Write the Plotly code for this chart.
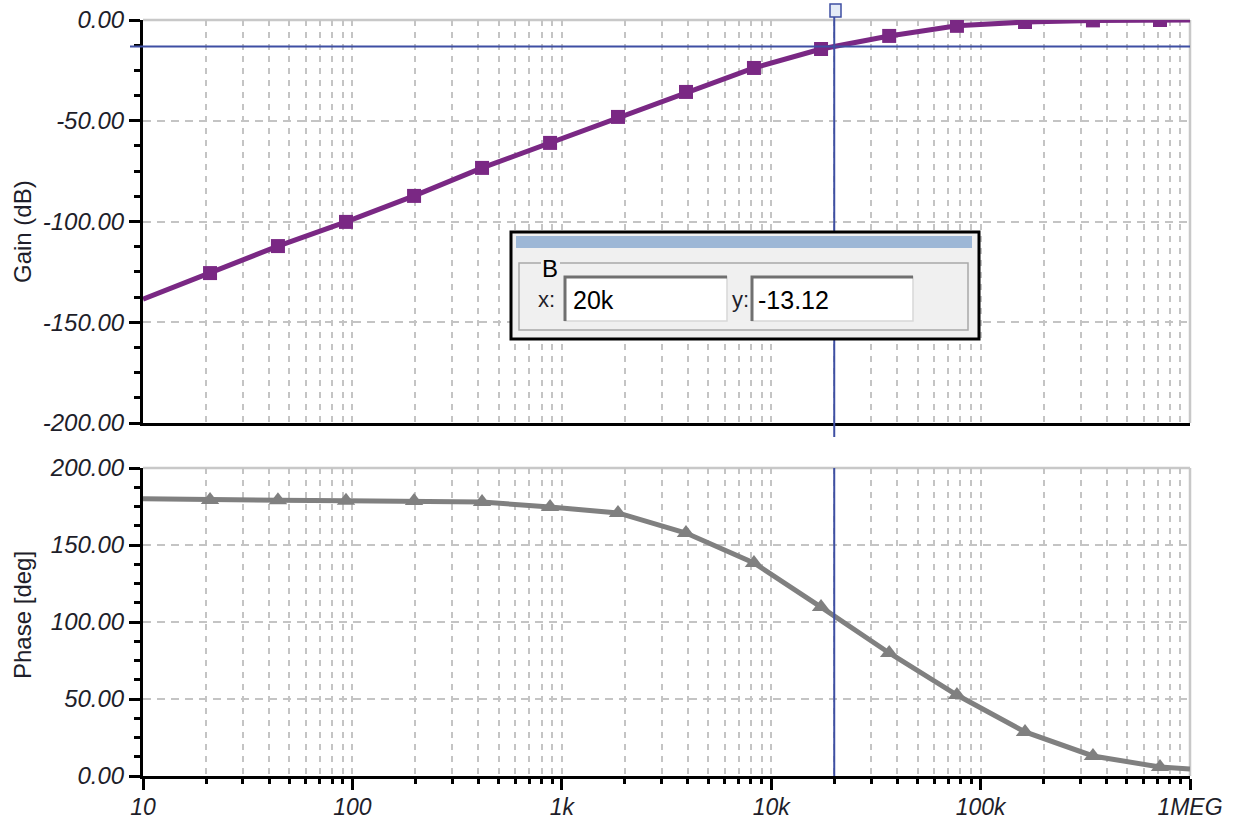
import plotly.graph_objects as go
from plotly.subplots import make_subplots

# ---------------- data ----------------
freq = [10, 20.9, 44.1, 93.2, 197, 416, 879, 1855, 3918, 8273,
        17300, 36600, 77100, 163000, 344000, 719000, 1000000]
gain_db = [-138.5, -125.6, -112.2, -100.2, -87.3, -73.4, -61.0, -48.1, -35.7, -23.8,
           -14.4, -7.9, -2.9, -1.0, -0.2, 0.0, 0.0]
phase_deg = [180.0, 179.2, 179.0, 178.8, 178.5, 177.9, 174.7, 170.8, 157.8, 138.3,
             109.7, 79.9, 52.6, 28.6, 13.0, 5.8, 4.5]
marker_shown = [0] + [1] * 15 + [0]

x_tickvals = [10, 100, 1000, 10000, 100000, 1000000]
x_ticktext = ["10", "100", "1k", "10k", "100k", "1MEG"]
x_minor = [k * 10 ** d for d in range(1, 6) for k in range(2, 10)]

gain_tickvals = [0, -50, -100, -150, -200]
gain_ticktext = ["0.00", "-50.00", "-100.00", "-150.00", "-200.00"]
phase_tickvals = [0, 50, 100, 150, 200]
phase_ticktext = ["0.00", "50.00", "100.00", "150.00", "200.00"]

cursor_x = 20000
cursor_y = -13.12
cursor_label = "B"
cursor_x_text = "20k"
cursor_y_text = "-13.12"

# ---------------- styling ----------------
W, H = 1250, 820
L, R, T, B = 143, 1190, 20, 776   # plot area in pixels
PW, PH = R - L, B - T


def px(x):
    return (x - L) / PW


def py(y):
    return (B - y) / PH


GAIN_COLOR = "#7a2884"
PHASE_COLOR = "#808080"
CURSOR_COLOR = "#3e4fa3"
GRID_COLOR = "#c4c4c4"
FRAME_GRAY = "#c8c8c8"
FONT = "Liberation Sans, Arial, sans-serif"
TEXT_COLOR = "#1e1e2a"

top_domain = [py(423), 1.0]
bot_domain = [0.0, py(468)]

fig = make_subplots(rows=2, cols=1, shared_xaxes=False)

fig.add_trace(go.Scatter(
    x=freq, y=gain_db, mode="lines+markers",
    line=dict(color=GAIN_COLOR, width=5),
    marker=dict(symbol="square", size=[14 * m for m in marker_shown], color=GAIN_COLOR,
                opacity=1, line=dict(width=0)),
    showlegend=False, hoverinfo="skip"), row=1, col=1)

fig.add_trace(go.Scatter(
    x=freq, y=phase_deg, mode="lines+markers",
    line=dict(color=PHASE_COLOR, width=5),
    marker=dict(symbol="triangle-up", size=[16 * m for m in marker_shown], color=PHASE_COLOR,
                opacity=1, line=dict(width=0)),
    showlegend=False, hoverinfo="skip"), row=2, col=1)

ytickfont = dict(family=FONT, size=24, color=TEXT_COLOR, style="italic")
xtickfont = dict(family=FONT, size=23, color=TEXT_COLOR, style="italic")

common_x = dict(
    type="log", range=[1, 6], tickmode="array", tickvals=x_tickvals,
    showline=True, linecolor="black", linewidth=3,
    showgrid=True, gridcolor=GRID_COLOR, gridwidth=1.5, griddash="6px,6px",
    zeroline=False, automargin=False, ticklabeloverflow="allow",
)

fig.update_layout(
    xaxis=dict(common_x, domain=[0, 1], anchor="y", showticklabels=False, ticks="",
               ticktext=x_ticktext,
               minor=dict(tickmode="array", tickvals=x_minor, ticks="",
                          showgrid=True, gridcolor=GRID_COLOR, gridwidth=1.5, griddash="6px,6px")),
    xaxis2=dict(common_x, domain=[0, 1], anchor="y2", ticktext=x_ticktext,
                ticks="outside", ticklen=11, tickwidth=2.5, tickcolor="black",
                tickfont=xtickfont, ticklabelstandoff=-3,
                minor=dict(tickmode="array", tickvals=x_minor, ticks="outside", ticklen=5,
                           tickwidth=2.5, tickcolor="black",
                           showgrid=True, gridcolor=GRID_COLOR, gridwidth=1.5, griddash="6px,6px")),
    yaxis=dict(domain=top_domain, anchor="x", range=[-200, 0], automargin=False,
               ticklabeloverflow="allow",
               tickmode="array", tickvals=gain_tickvals, ticktext=gain_ticktext,
               ticks="outside", ticklen=11, tickwidth=2.5, tickcolor="black",
               tickfont=ytickfont, showline=True, linecolor="black", linewidth=3,
               showgrid=True, gridcolor=GRID_COLOR, gridwidth=1.5, griddash="8px,6px",
               zeroline=False,
               minor=dict(dtick=12.5, tick0=0, ticks="outside", ticklen=6, tickwidth=2.5,
                          tickcolor="black", showgrid=False)),
    yaxis2=dict(domain=bot_domain, anchor="x2", range=[0, 200], automargin=False,
                ticklabeloverflow="allow",
                tickmode="array", tickvals=phase_tickvals, ticktext=phase_ticktext,
                ticks="outside", ticklen=11, tickwidth=2.5, tickcolor="black",
                tickfont=ytickfont, showline=True, linecolor="black", linewidth=3,
                showgrid=True, gridcolor=GRID_COLOR, gridwidth=1.5, griddash="8px,6px",
                zeroline=False,
                minor=dict(dtick=12.5, tick0=0, ticks="outside", ticklen=6, tickwidth=2.5,
                           tickcolor="black", showgrid=False)),
    width=W, height=H,
    margin=dict(l=L, r=W - R, t=T, b=H - B, autoexpand=False),
    paper_bgcolor="white", plot_bgcolor="white",
    showlegend=False, hovermode=False,
    font=dict(family=FONT, color=TEXT_COLOR),
)

shapes = []
# gray top / right frame of both plots
for xr, yr in (("x domain", "y domain"), ("x2 domain", "y2 domain")):
    shapes.append(dict(type="line", xref=xr, yref=yr, x0=0, x1=1, y0=1, y1=1,
                       line=dict(color=FRAME_GRAY, width=2.5), layer="below"))
    shapes.append(dict(type="line", xref=xr, yref=yr, x0=1, x1=1, y0=0, y1=1,
                       line=dict(color=FRAME_GRAY, width=2.5), layer="below"))

# cursor lines
shapes.append(dict(type="line", xref="x", yref="paper", x0=cursor_x, x1=cursor_x,
                   y0=py(437), y1=py(15), line=dict(color=CURSOR_COLOR, width=2)))
shapes.append(dict(type="line", xref="x2", yref="paper", x0=cursor_x, x1=cursor_x,
                   y0=0, y1=py(468), line=dict(color=CURSOR_COLOR, width=2)))
shapes.append(dict(type="line", xref="x domain", yref="y", x0=px(130), x1=1,
                   y0=cursor_y, y1=cursor_y, line=dict(color=CURSOR_COLOR, width=2)))
# cursor handle
shapes.append(dict(type="rect", xref="paper", yref="paper",
                   x0=px(830), x1=px(841), y0=py(17), y1=py(4),
                   fillcolor="#e4ebf7", line=dict(color=CURSOR_COLOR, width=1.5)))

# cursor readout window
shapes.append(dict(type="rect", xref="paper", yref="paper", x0=px(511), x1=px(979),
                   y0=py(339), y1=py(232), fillcolor="#f0f0f0",
                   line=dict(color="black", width=3)))
shapes.append(dict(type="rect", xref="paper", yref="paper", x0=px(516), x1=px(972),
                   y0=py(248), y1=py(236), fillcolor="#9db7d6", line=dict(width=0)))
shapes.append(dict(type="rect", xref="paper", yref="paper", x0=px(519), x1=px(968),
                   y0=py(330), y1=py(263), fillcolor="rgba(0,0,0,0)",
                   line=dict(color="#a8a8a8", width=1.5)))
shapes.append(dict(type="rect", xref="paper", yref="paper", x0=px(541), x1=px(560),
                   y0=py(268), y1=py(258), fillcolor="#f0f0f0", line=dict(width=0)))
for x0, x1 in ((565, 727), (752, 913)):
    shapes.append(dict(type="rect", xref="paper", yref="paper", x0=px(x0), x1=px(x1),
                       y0=py(321), y1=py(277), fillcolor="white",
                       line=dict(color="#d8d8d8", width=1.5)))
    shapes.append(dict(type="path", xref="paper", yref="paper",
                       path=f"M {px(x0)},{py(321)} L {px(x0)},{py(277)} L {px(x1)},{py(277)}",
                       line=dict(color="#707070", width=3)))

fig.update_layout(shapes=shapes)

ann = []
ann.append(dict(text="Gain (dB)", xref="paper", yref="paper", x=px(22), y=py(232),
                textangle=-90, showarrow=False, xanchor="center", yanchor="middle",
                font=dict(family=FONT, size=24, color=TEXT_COLOR)))
ann.append(dict(text="Phase [deg]", xref="paper", yref="paper", x=px(22), y=py(615),
                textangle=-90, showarrow=False, xanchor="center", yanchor="middle",
                font=dict(family=FONT, size=24, color=TEXT_COLOR)))
ann.append(dict(text=cursor_label, xref="paper", yref="paper", x=px(550), y=py(268),
                showarrow=False, xanchor="center", yanchor="middle",
                font=dict(family=FONT, size=24, color="black")))
ann.append(dict(text="x:", xref="paper", yref="paper", x=px(546), y=py(299),
                showarrow=False, xanchor="center", yanchor="middle",
                font=dict(family=FONT, size=22, color=TEXT_COLOR)))
ann.append(dict(text="y:", xref="paper", yref="paper", x=px(740), y=py(299),
                showarrow=False, xanchor="center", yanchor="middle",
                font=dict(family=FONT, size=22, color=TEXT_COLOR)))
ann.append(dict(text=cursor_x_text, xref="paper", yref="paper", x=px(571), y=py(300),
                showarrow=False, xanchor="left", yanchor="middle",
                font=dict(family=FONT, size=25, color="black")))
ann.append(dict(text=cursor_y_text, xref="paper", yref="paper", x=px(756), y=py(300),
                showarrow=False, xanchor="left", yanchor="middle",
                font=dict(family=FONT, size=25, color="black")))
fig.update_layout(annotations=ann)

fig.write_html("out.html", config={"displayModeBar": False},
               post_script="document.body.style.margin='0';document.body.style.overflow='hidden';")
